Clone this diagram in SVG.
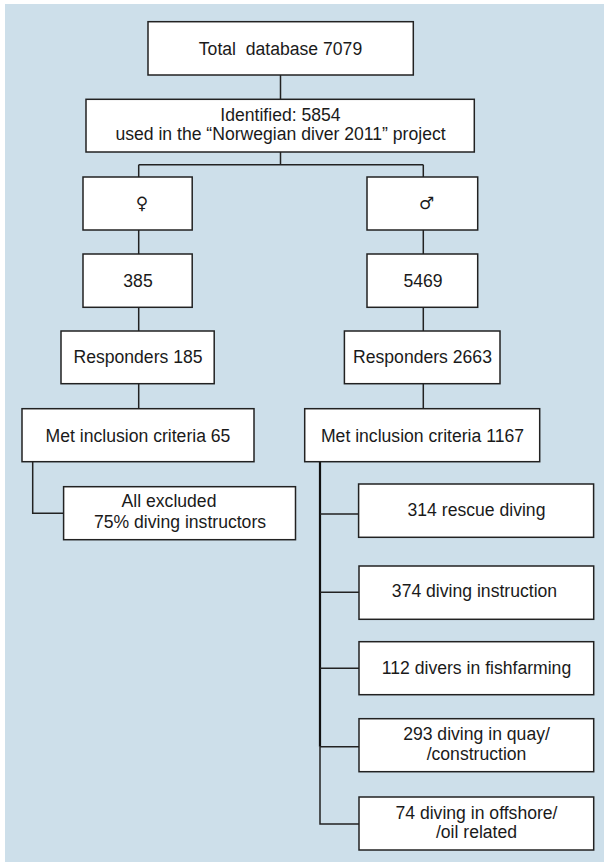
<svg xmlns="http://www.w3.org/2000/svg" width="604" height="863" viewBox="0 0 604 863">
<defs>
<style>
.bg{fill:#cddfea}
.box{fill:#ffffff;stroke:#222222;stroke-width:1.5}
.t{font-family:"Liberation Sans",Arial,sans-serif;font-size:17.6px;fill:#1a1a1a;text-anchor:middle;white-space:pre}
.sym{font-family:"DejaVu Sans",sans-serif;font-size:17px;fill:#1a1a1a;text-anchor:middle}
.c{fill:none;stroke:#222222;stroke-width:1.5}
.cb{fill:none;stroke:#111111;stroke-width:2.2}
</style>
</defs>
<rect class="bg" x="5" y="4" width="599" height="858"/>
<g id="connectors">
<path class="c" d="M280.5,75 V99.3"/>
<path class="c" d="M280.5,152 V164.7 M138.7,164.7 H423.3 M138.7,164.7 V177 M423.3,164.7 V177"/>
<path class="c" d="M138.7,230 V254 M423.3,230 V254"/>
<path class="c" d="M138.7,307.3 V331 M423.3,307.3 V331"/>
<path class="c" d="M138.7,383.7 V408.7 M423.3,383.7 V408.7"/>
<path class="c" d="M32.7,461.7 V513.3 H63.6"/>
<path class="cb" d="M320,461.7 V746.7"/>
<path class="c" d="M320,746.7 V824 H359"/>
<path class="c" d="M320,514 H358.6 M320,592.3 H359 M320,668.3 H359 M320,746.7 H359"/>
</g>
<g id="n-total"><rect class="box" x="148" y="21.7" width="265.3" height="53.3"/><text class="t" x="280.5" y="55">Total  database 7079</text></g>
<g id="n-identified"><rect class="box" x="86" y="99.3" width="388.3" height="52.7"/><text class="t" x="280.5" y="120.7">Identified: 5854</text><text class="t" x="280.5" y="140.3">used in the “Norwegian diver 2011” project</text></g>
<g id="n-female"><rect class="box" x="83" y="177" width="109.2" height="53"/><text class="sym" x="142" y="209">♀</text></g>
<g id="n-male"><rect class="box" x="367" y="177" width="110.7" height="53"/><text class="sym" x="426.5" y="209">♂</text></g>
<g id="n-385"><rect class="box" x="83" y="254" width="109.2" height="53.3"/><text class="t" x="138" y="286.7">385</text></g>
<g id="n-5469"><rect class="box" x="367" y="254" width="110.7" height="53.3"/><text class="t" x="423" y="286.7">5469</text></g>
<g id="n-resp185"><rect class="box" x="61" y="331" width="153.2" height="52.7"/><text class="t" x="138" y="362.7">Responders 185</text></g>
<g id="n-resp2663"><rect class="box" x="344.4" y="331" width="155.6" height="52.7"/><text class="t" x="422.5" y="362.7">Responders 2663</text></g>
<g id="n-met65"><rect class="box" x="22" y="408.7" width="232" height="53"/><text class="t" x="138" y="441.7">Met inclusion criteria 65</text></g>
<g id="n-met1167"><rect class="box" x="304.7" y="408.7" width="235" height="53"/><text class="t" x="422.5" y="441.7">Met inclusion criteria 1167</text></g>
<g id="n-excluded"><rect class="box" x="63.6" y="486.7" width="231.9" height="53"/><text class="t" x="169" y="507.3">All excluded</text><text class="t" x="180" y="528">75% diving instructors</text></g>
<g id="n-rescue"><rect class="box" x="358.6" y="484" width="235" height="53.3"/><text class="t" x="476.5" y="515.7">314 rescue diving</text></g>
<g id="n-instruction"><rect class="box" x="359" y="566" width="234.7" height="53.3"/><text class="t" x="474.5" y="597">374 diving instruction</text></g>
<g id="n-fishfarming"><rect class="box" x="359" y="641.7" width="234.7" height="53"/><text class="t" x="476.5" y="674">112 divers in fishfarming</text></g>
<g id="n-quay"><rect class="box" x="359" y="718.7" width="234.7" height="53"/><text class="t" x="476.5" y="739.5">293 diving in quay/</text><text class="t" x="476.5" y="759.5">/construction</text></g>
<g id="n-offshore"><rect class="box" x="359" y="797" width="234.7" height="53"/><text class="t" x="476.5" y="818.5">74 diving in offshore/</text><text class="t" x="476.5" y="838">/oil related</text></g>
</svg>
